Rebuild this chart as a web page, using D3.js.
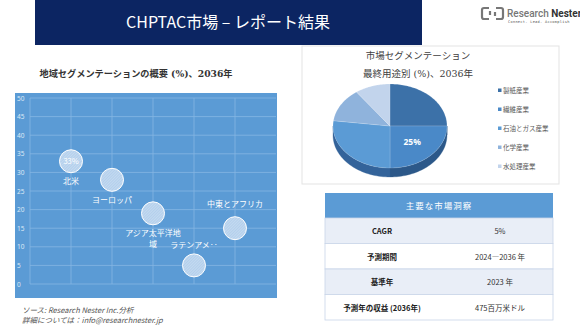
<!DOCTYPE html>
<html><head><meta charset="utf-8">
<script src="https://cdn.jsdelivr.net/npm/d3@7/dist/d3.min.js"></script>
<style>
html,body{margin:0;padding:0;background:#fff;}
svg{display:block;font-family:"Noto Sans CJK JP","Noto Sans",sans-serif;}
</style></head>
<body><svg id="c" width="580" height="326"></svg>
<script>
// ---- data ----
const regions = ["北米", "ヨーロッパ", "アジア太平洋地域", "ラテンアメリカ", "中東とアフリカ"];
const regionLabels = [["北米"], ["ヨーロッパ"], ["アジア太平洋地", "域"], ["ラテンアメ‥"], ["中東とアフリカ"]];
const regionX = [1, 2, 3, 4, 5];
const regionShare = [33, 28, 19, 5, 15];
const yTicks = [0, 5, 10, 15, 20, 25, 30, 35, 40, 45, 50];
const endUses = ["製紙産業", "繊維産業", "石油とガス産業", "化学産業", "水処理産業"];
const endUseShare = [25, 25, 27, 13, 10];
const tableKeys = ["CAGR", "予測期間", "基準年", "予測年の収益 (2036年)"];
const tableVals = ["5%", "2024―2036 年", "2023 年", "475百万米ドル"];

const svg = d3.select("#c");

// ---- banner ----
svg.append("rect").attr("x", 35).attr("y", 0).attr("width", 387).attr("height", 45).attr("fill", "#0c2562");
svg.append("text").attr("x", 228).attr("y", 28).attr("text-anchor", "middle")
  .attr("fill", "#fff").attr("font-size", 16).text("CHPTAC市場 – レポート結果");

// logo
const lg = svg.append("g");
lg.append("path").attr("d", "M489,8 h-5 a2,2 0 0 0 -2,2 v7 a2,2 0 0 0 2,2 h5 M490,11 v4 M496,19 h5 a2,2 0 0 0 2,-2 v-7 a2,2 0 0 0 -2,-2 h-5 M495,16 v-4")
  .attr("fill", "none").attr("stroke", "#777").attr("stroke-width", 2.2);
lg.append("text").attr("x", 507).attr("y", 17).attr("font-size", 10).attr("font-family", "Roboto,sans-serif")
  .attr("fill", "#777").attr("font-weight", 500)
  .html('Research <tspan fill="#333" font-weight="700">Nester</tspan>');
lg.append("text").attr("x", 508).attr("y", 23).attr("font-size", 3.6).attr("fill", "#555").attr("font-family", "DejaVu Sans Mono,monospace")
  .attr("letter-spacing", 0.3).text("Connect. Lead. Accomplish");

// ---- bubble chart ----
svg.append("text").attr("x", 136).attr("y", 77).attr("text-anchor", "middle").attr("font-size", 9.2)
  .attr("font-weight", 700).attr("fill", "#333").attr("font-family", "DejaVu Serif,'Noto Sans CJK JP',serif")
  .text("地域セグメンテーションの概要 (%)、2036年");

svg.append("rect").attr("x", 15).attr("y", 93).attr("width", 262).attr("height", 205).attr("fill", "#5b9bd5");
const x = d3.scaleLinear().domain([0, 6]).range([30, 276]);
const y = d3.scaleLinear().domain([0, 50]).range([284, 98]);

const defs = svg.append("defs");
const pat = defs.append("pattern").attr("id", "hatch").attr("patternUnits", "userSpaceOnUse")
  .attr("width", 2).attr("height", 2).attr("patternTransform", "rotate(45)");
pat.append("rect").attr("width", 2).attr("height", 2).attr("fill", "#b3cfec");
pat.append("line").attr("x1", 0).attr("y1", 0).attr("x2", 0).attr("y2", 2).attr("stroke", "#d6e5f5").attr("stroke-width", 1);

const grid = svg.append("g");
grid.selectAll("line.h").data(yTicks).join("line").attr("class", "h")
  .attr("x1", 30).attr("x2", 276).attr("y1", d => y(d)).attr("y2", d => y(d))
  .attr("stroke", "#86b6e3").attr("stroke-width", 0.8);
grid.selectAll("line.v").data(d3.range(0, 6)).join("line").attr("class", "v")
  .attr("x1", d => x(d)).attr("x2", d => x(d)).attr("y1", 98).attr("y2", 284)
  .attr("stroke", "#86b6e3").attr("stroke-width", 0.8);

const yAxis = svg.append("g").attr("transform", "translate(17,0)")
  .call(d3.axisLeft(y).tickValues(yTicks).tickSize(0).tickPadding(0));
yAxis.select(".domain").remove();
yAxis.selectAll("text").attr("text-anchor", "start").attr("x", 0).attr("fill", "#dce9f6")
  .attr("font-size", 6.5).attr("font-family", "Noto Sans,sans-serif");

const bub = svg.append("g");
regionX.forEach((rx, i) => {
  const cx = x(rx), cy = y(regionShare[i]);
  bub.append("circle").attr("cx", cx).attr("cy", cy).attr("r", 11.5)
    .attr("fill", "url(#hatch)").attr("stroke", "#fff").attr("stroke-width", 1);
  const lines = regionLabels[i];
  const above = regionShare[i] < 16 && i !== 2;
  lines.forEach((t, k) => {
    const ly = above ? cy - (regionShare[i] > 10 ? 21 : 17) : cy + 23 + k * 11;
    bub.append("text").attr("x", cx).attr("y", ly).attr("text-anchor", "middle")
      .attr("fill", "#fff").attr("font-size", 8).text(t);
  });
});
bub.append("text").attr("x", x(regionX[0])).attr("y", y(regionShare[0]) + 3).attr("text-anchor", "middle")
  .attr("fill", "#fff").attr("font-size", 7.5).text(regionShare[0] + "%");

svg.append("text").attr("x", 22).attr("y", 313).attr("font-size", 7.5).attr("font-style", "italic")
  .attr("fill", "#555").text("ソース: Research Nester Inc.分析");
svg.append("text").attr("x", 22).attr("y", 323).attr("font-size", 7.5).attr("font-style", "italic")
  .attr("fill", "#555").text("詳細については：info@researchnester.jp");

// ---- pie chart ----
svg.append("rect").attr("x", 302).attr("y", 46).attr("width", 257).attr("height", 138)
  .attr("fill", "#fff").attr("stroke", "#e3e3e3");
svg.append("text").attr("x", 418).attr("y", 59).attr("text-anchor", "middle").attr("font-size", 9.5)
  .attr("fill", "#404040").attr("font-family", "DejaVu Serif,'Noto Sans CJK JP',serif").text("市場セグメンテーション");
svg.append("text").attr("x", 418).attr("y", 77).attr("text-anchor", "middle").attr("font-size", 9.5)
  .attr("fill", "#404040").attr("font-family", "DejaVu Serif,'Noto Sans CJK JP',serif").text("最終用途別 (%)、2036年");

const pieColors = ["#3c71a8", "#4a89c8", "#5b9bd5", "#8fb3dc", "#c2d4ec"];
const sideColors = ["#2a5480", "#2c5889", "#33639a", "#5d7fa8", "#8a9fbd"];
const pcx = 390, pcy = 126, prx = 57, pry = 42, depth = 9;
const pt = (a, dy = 0) => [pcx + prx * Math.sin(a), pcy - pry * Math.cos(a) + dy];
const arcs = d3.pie().sort(null)(endUseShare);
const pg = svg.append("g");
// sides
arcs.forEach((a, i) => {
  const s = Math.max(a.startAngle, Math.PI / 2), e = Math.min(a.endAngle, 3 * Math.PI / 2);
  if (e <= s) return;
  const n = 40, top = [], bot = [];
  for (let k = 0; k <= n; k++) { const t = s + (e - s) * k / n; top.push(pt(t)); bot.push(pt(t, depth)); }
  const poly = top.concat(bot.reverse());
  pg.append("path").attr("d", "M" + poly.map(p => p.join(",")).join("L") + "Z")
    .attr("fill", sideColors[i]).attr("stroke", sideColors[i]).attr("stroke-width", 0.3);
});
// tops
arcs.forEach((a, i) => {
  const n = 60, pts = [[pcx, pcy]];
  for (let k = 0; k <= n; k++) pts.push(pt(a.startAngle + (a.endAngle - a.startAngle) * k / n));
  pg.append("path").attr("d", "M" + pts.map(p => p.join(",")).join("L") + "Z")
    .attr("fill", pieColors[i]).attr("stroke", "#fff").attr("stroke-width", 0.3).attr("stroke-opacity", 0.5);
});
const mid2 = (arcs[1].startAngle + arcs[1].endAngle) / 2;
const lp = [pcx + prx * 0.55 * Math.sin(mid2), pcy - pry * 0.55 * Math.cos(mid2)];
pg.append("text").attr("x", lp[0]).attr("y", lp[1] + 3).attr("text-anchor", "middle")
  .attr("fill", "#fff").attr("font-size", 8.5).attr("font-weight", 700).attr("font-family", "Noto Sans,sans-serif")
  .text(endUseShare[1] + "%");

const leg = svg.append("g");
endUses.forEach((t, i) => {
  const ly = 92 + i * 19;
  leg.append("rect").attr("x", 498).attr("y", ly - 3.5).attr("width", 3.5).attr("height", 3.5).attr("fill", pieColors[i]);
  leg.append("text").attr("x", 503).attr("y", ly + 0.5).attr("font-size", 6.5).attr("fill", "#595959").text(t);
});

// ---- table ----
const tb = svg.append("g");
tb.append("rect").attr("x", 325).attr("y", 193).attr("width", 228).attr("height", 25).attr("fill", "#5b9bd5");
tb.append("text").attr("x", 439).attr("y", 209).attr("text-anchor", "middle").attr("fill", "#fff")
  .attr("font-size", 8.5).attr("letter-spacing", 1).text("主要な市場洞察");
tableKeys.forEach((k, i) => {
  const ry = 218 + i * 25.5;
  tb.append("rect").attr("x", 325).attr("y", ry).attr("width", 228).attr("height", 25.5)
    .attr("fill", i % 2 === 0 ? "#e9eef7" : "#fff").attr("stroke", "#c9d5e8").attr("stroke-width", 0.8);
  tb.append("text").attr("x", 382).attr("y", ry + 16).attr("text-anchor", "middle").attr("font-size", 7.5)
    .attr("font-weight", 700).attr("fill", "#222").text(k);
  tb.append("text").attr("x", 500).attr("y", ry + 16).attr("text-anchor", "middle").attr("font-size", 7.5)
    .attr("fill", "#333").text(tableVals[i]);
});
</script></body></html>
